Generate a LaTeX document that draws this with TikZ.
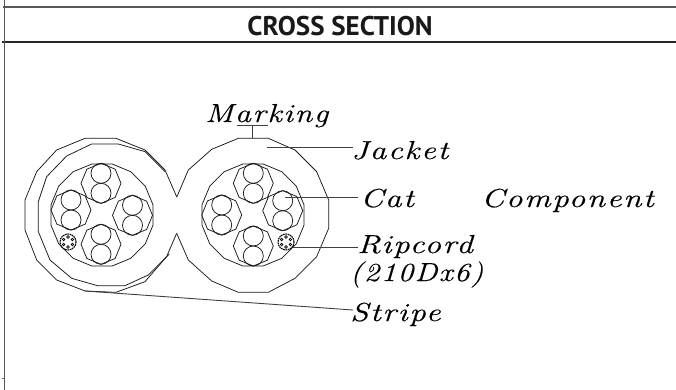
\documentclass[tikz,border=0pt]{standalone}
\usepackage{fontspec}
\newfontfamily\titlefont{PT Sans}
\newfontfamily\labelfont[LetterSpace=5,FakeBold=0.3]{Latin Modern Roman}
\tikzset{
  x=1pt,y=-1pt,
  wire/.style={line width=0.75pt,black!90,line join=round},
  leader/.style={line width=0.9pt,black!75},
  lab/.style={inner sep=0pt,anchor=base west,xscale=1.27,transform shape,font=\labelfont\itshape\fontsize{26}{26}\selectfont,text=black},
  pics/cablecore/.style={code={
    \draw[wire] (90:20)--(45:20)--(0:20)--(-45:20)--(-90:20)--(-135:20)--(180:20)--(135:20)--cycle;
    \draw[wire] (0,-10) circle (10);
    \draw[wire] (0,10) circle (10);
  }},
  pics/ripcordcore/.style={code={
    \draw[line width=1.1pt,black,dash pattern=on 1.6pt off 0.7pt] (0,0) circle (8);
    \foreach \a in {30,90,...,330}{\draw[line width=0.7pt] (\a:5) circle (1.3);}
  }},
  pics/bundle/.style={code={
    \draw[wire] (11.25:52)\foreach \a in {33.75,56.25,...,348.75}{--(\a:52)}--cycle;
  }}
}
\begin{document}
\begin{tikzpicture}
\useasboundingbox (0,0) rectangle (676,390);
\fill[white] (0,0) rectangle (676,390);
% frame
\draw[line width=1.6pt,black!65] (3,7)--(676,7);
\draw[line width=1.3pt,black!85] (2,42)--(676,42);
\draw[line width=1.3pt,black!65] (4.5,0)--(4.5,390);
\draw[line width=0.6pt,black!60] (1.5,378)--(4,378);
\node[inner sep=0pt,font=\titlefont\bfseries\fontsize{27}{27}\selectfont,text=black!90] (title) at (340,26) {CROSS SECTION};
% left jacket
\begin{scope}[shift={(10,120)},x=0.3333pt,y=-0.3333pt]
\draw[wire] (500,230)--(465,150)--(405,90)--(318,55)--(225,55)--(140,90)--(80,155)--(45,240)--(45,330)--(80,420)--(140,480)--(225,513)--(318,517)--(405,485)--(470,410)--(500,340);
\draw[wire] (465,155)--(405,95)--(325,72)--(245,72)--(170,108)--(110,170)--(85,245)--(85,335)--(120,420)--(185,475)--(262,497)--(345,497)--(415,465)--(478,402);
\end{scope}
% right jacket
\begin{scope}[shift={(170,120)},x=0.3333pt,y=-0.3333pt]
\draw[wire] (20,232)--(55,150)--(125,88)--(205,55)--(295,55)--(375,90)--(440,155)--(476,240)--(476,325)--(440,410)--(375,475)--(295,517)--(205,517)--(125,483)--(55,420)--(20,340);
\end{scope}
% bundles
\pic at (102,215) {bundle};
\pic at (253,215) {bundle};
% cores
\pic at (101,183.3) {cablecore};
\pic at (132.5,215.3) {cablecore};
\pic at (71,210) {cablecore};
\pic at (101,244.3) {cablecore};
\pic at (253.3,183.3) {cablecore};
\pic at (282.7,210.7) {cablecore};
\pic at (221.7,215) {cablecore};
\pic at (253.3,246) {cablecore};
% ripcords
\pic at (68,242) {ripcordcore};
\pic at (286,242) {ripcordcore};
% labels
\node[lab,xscale=0.97] (marking) at (205,122) {Marking};
\node[lab] (jacket) at (351,159) {Jacket};
\node[lab] (cat) at (360,207) {Cat};
\node[lab] (component) at (481,207) {Component};
\node[lab] (ripcord) at (357,253) {Ripcord};
\node[lab,xscale=0.93] (denier) at (350,281) {(210Dx6)};
\node[lab] (stripe) at (350,321) {Stripe};
% leader ends
\coordinate (tl) at (236.7,125);
\coordinate (tr) at (268.3,125);
\coordinate (tm) at (252.3,125);
\coordinate (tb) at (252.3,138);
\coordinate (j0) at (266.7,147.7);
\coordinate (j1) at (353.3,147.7);
\coordinate (c0) at (285,197.3);
\coordinate (c1) at (357.7,197.3);
\coordinate (r0) at (293.3,247);
\coordinate (r1) at (357.7,247);
\coordinate (s0) at (85,291);
\coordinate (s1) at (353,310);
\draw[leader] (tl)--(tr);
\draw[leader] (tm)--(tb);
\draw[leader] (j0)--(j1);
\draw[leader] (c0)--(c1);
\draw[leader] (r0)--(r1);
\draw[leader] (s0)--(s1);
\end{tikzpicture}
\end{document}
